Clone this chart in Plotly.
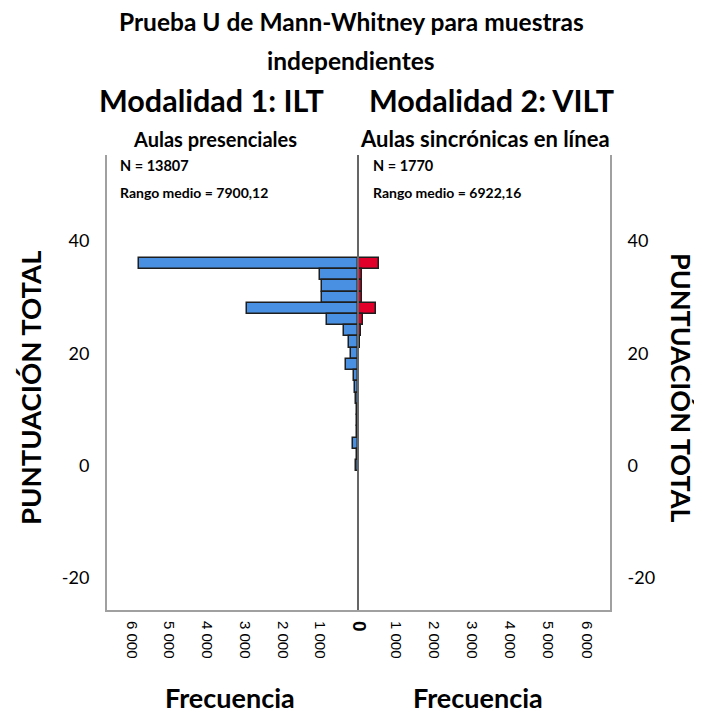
import plotly.graph_objects as go

# Data
scores = [36, 34, 32, 30, 28, 26, 24, 22, 20, 18, 16, 14, 12, 10, 8, 6, 4, 2, 0]
freq_ilt = [5800, 1020, 950, 950, 2950, 810, 370, 230, 190, 310, 100, 70, 40, 30, 20, 15, 120, 30, 60]
freq_vilt = [550, 115, 115, 115, 460, 120, 90, 50, 30, 25, 15, 10, 8, 6, 5, 5, 4, 4, 4]
x_ticks = [0, 1000, 2000, 3000, 4000, 5000, 6000]
x_ticktext_left = ["", "1 000", "2 000", "3 000", "4 000", "5 000", "6 000"]
x_ticktext_right = ["<b><span style='font-size:19px'>0</span></b>", "1 000", "2 000", "3 000", "4 000", "5 000", "6 000"]
y_ticks = [-20, 0, 20, 40]
y_ticktext = ["-20", "0", "20", "40"]

FONT = "Lato"
BLUE = "#4A90E2"
RED = "#E0002A"
OUTLINE = "#1e1e1e"
FRAME = "#a0a0a0"

# page body has an 8px margin: figure is sized so the page is 702x715
W, H = 694, 707
L, R, T, B = 99, 92, 147, 105

fig = go.Figure()
fig.add_trace(go.Bar(x=freq_ilt, y=scores, orientation="h", width=2,
                     marker=dict(color=BLUE, line=dict(color=OUTLINE, width=1.5)),
                     xaxis="x", yaxis="y", showlegend=False))
fig.add_trace(go.Bar(x=freq_vilt, y=scores, orientation="h", width=2,
                     marker=dict(color=RED, line=dict(color=OUTLINE, width=1.5)),
                     xaxis="x2", yaxis="y2", showlegend=False))

yr = [-25.7, 55.3]
split = 0.499
xt = dict(family="Liberation Sans", size=15)
fig.update_layout(
    width=W, height=H,
    margin=dict(l=L, r=R, t=T, b=B),
    paper_bgcolor="white", plot_bgcolor="white",
    font=dict(family=FONT, color="black"),
    bargap=0,
    xaxis=dict(domain=[0, split], range=[6650, 0], tickvals=x_ticks, ticktext=x_ticktext_left,
               tickangle=90, tickfont=xt, automargin=False,
               showline=True, linecolor=FRAME, linewidth=2, showgrid=False, zeroline=False,
               ticks="", ticklabelstandoff=6, anchor="y"),
    xaxis2=dict(domain=[split, 1], range=[0, 6620], tickvals=x_ticks, ticktext=x_ticktext_right,
                tickangle=90, tickfont=xt, automargin=False,
                showline=True, linecolor=FRAME, linewidth=2, showgrid=False, zeroline=False,
                ticks="", ticklabelstandoff=6, anchor="y2"),
    yaxis=dict(range=yr, tickvals=y_ticks, ticktext=y_ticktext, tickfont=dict(size=18),
               showline=True, automargin=False,
               linecolor=FRAME, linewidth=2, showgrid=False, zeroline=False,
               ticks="", ticklabelstandoff=12, anchor="x"),
    yaxis2=dict(range=yr, tickvals=y_ticks, ticktext=y_ticktext, tickfont=dict(size=18),
                showline=True, automargin=False,
                linecolor=FRAME, linewidth=2, showgrid=False, zeroline=False, side="right",
                ticks="", ticklabelstandoff=12, anchor="x2", matches="y"),
)

# centre line
fig.add_shape(type="line", xref="paper", yref="paper", x0=split, x1=split, y0=0, y1=1,
              line=dict(color="#666666", width=2), layer="above")

pw, ph = W - L - R, H - T - B
def px(xp):  # page x -> paper fraction
    return (xp - 8 - L) / pw
def py(yp):  # page y -> paper fraction
    return (H - B - (yp - 8)) / ph

def ann(text, x, y, size, xanchor="center", textangle=0):
    fig.add_annotation(text=f"<b>{text}</b>", x=px(x), y=py(y), xref="paper", yref="paper",
                       showarrow=False, xanchor=xanchor, yanchor="middle",
                       textangle=textangle, font=dict(family=FONT, size=size, color="black"))

ann("Prueba U de Mann-Whitney para muestras", 351, 22, 24.5)
ann("independientes", 351, 60, 24.5)
ann("Modalidad 1: ILT", 211, 100, 30.5)
ann("Modalidad 2: VILT", 491, 100, 30.5)
ann("Aulas presenciales", 215, 139, 20)
ann("Aulas sincrónicas en línea", 485, 139, 22)
ann("N = 13807", 118, 165, 14.5, xanchor="left")
ann("Rango medio = 7900,12", 118, 192, 14, xanchor="left")
ann("N = 1770", 371, 165, 14.5, xanchor="left")
ann("Rango medio = 6922,16", 371, 192, 14, xanchor="left")
ann("PUNTUACIÓN TOTAL", 30, 388, 27.5, textangle=-90)
ann("PUNTUACIÓN TOTAL", 682, 388, 27, textangle=90)
ann("Frecuencia", 230, 697, 27)
ann("Frecuencia", 478, 697, 27)

fig.write_html("out.html")
